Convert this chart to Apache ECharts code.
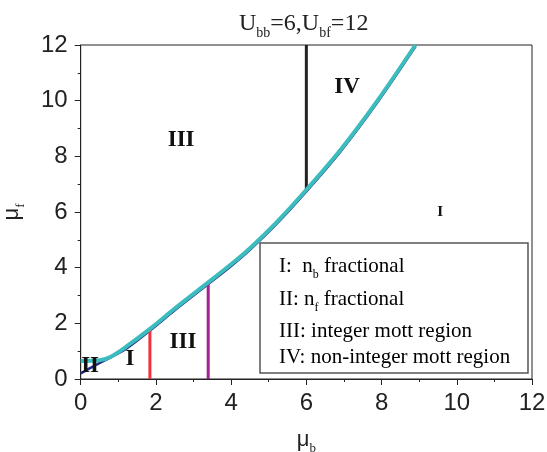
<!DOCTYPE html>
<html><head><meta charset="utf-8">
<script src="https://cdn.jsdelivr.net/npm/echarts@6/dist/echarts.min.js"></script>
<style>html,body{margin:0;padding:0;background:#fff}#c{width:547px;height:452px}</style>
</head><body><div id="c"></div>
<script>
// ---- data ----
var boundaryX = [0, 0.5, 0.8, 1.2, 1.84, 2.5, 3.39, 4.0, 4.5, 5.2, 6.0, 6.9, 7.9, 8.9];
var boundaryY = [0.65, 0.67, 0.8, 1.15, 1.8, 2.53, 3.47, 4.12, 4.7, 5.62, 6.8, 8.22, 10.02, 12.0];
var innerX = [0, 0.3, 0.6, 1.2, 1.84, 2.5, 3.39, 4.0, 4.5, 5.2, 6.0, 6.9, 7.9, 8.9];
var innerY = [0.2, 0.43, 0.64, 1.08, 1.74, 2.47, 3.41, 4.06, 4.64, 5.56, 6.74, 8.16, 9.96, 11.94];
var redX = [1.84, 1.84], redY = [0, 1.8];
var magentaX = [3.39, 3.39], magentaY = [0, 3.47];
var blackX = [6, 6], blackY = [6.8, 12];
var regionX = [0.25, 1.31, 2.72, 2.67, 7.08, 9.56];
var regionY = [0.45, 0.72, 1.33, 8.6, 10.5, 6.0];
var regionText = ['II', 'I', 'III', 'III', 'IV', 'I'];
var xTicks = [0, 2, 4, 6, 8, 10, 12];
var yTicks = [0, 2, 4, 6, 8, 10, 12];

function pts(xs, ys) { return xs.map(function (x, i) { return [x, ys[i]]; }); }

var chart = echarts.init(document.getElementById('c'), null, {renderer: 'canvas'});
var serif = '"Liberation Serif", "DejaVu Serif", serif';
var sans = '"Liberation Sans", Arial, sans-serif';
var sub = {fontFamily: serif, fontSize: 12, fontWeight: 'normal', lineHeight: 30, verticalAlign: 'bottom', color: '#222'};

var legendLines = [
  {y: 266, text: '{a|I:  n}{s|b}{a| fractional}'},
  {y: 299, text: '{a|II: n}{s|f}{a| fractional}'},
  {y: 331, text: '{a|III: integer mott region}'},
  {y: 357, text: '{a|IV: non-integer mott region}'}
];
var graphics = [{
  type: 'rect', shape: {x: 260, y: 243, width: 268, height: 130},
  style: {fill: '#fff', stroke: '#555', lineWidth: 1.5}, z: 10
}];
legendLines.forEach(function (l) {
  graphics.push({
    type: 'text', x: 279, y: l.y, z: 11,
    style: {
      text: l.text, verticalAlign: 'middle', align: 'left',
      rich: {a: {fontFamily: serif, fontSize: 21, lineHeight: 30, verticalAlign: 'middle', color: '#222'}, s: sub}
    }
  });
});

var option = {
  animation: false,
  title: {
    text: '{a|U}{s|bb}{a|=6,U}{s|bf}{a|=12}',
    left: 234, top: 3,
    textStyle: {fontWeight: 'normal', rich: {
      a: {fontFamily: serif, fontSize: 24, fontWeight: 'normal', lineHeight: 32, verticalAlign: 'middle', color: '#222'},
      s: {fontFamily: serif, fontSize: 14, fontWeight: 'normal', lineHeight: 32, verticalAlign: 'bottom', color: '#222'}}}
  },
  grid: {left: 80.7, right: 15, top: 45, bottom: 73, show: true, borderColor: '#222', borderWidth: 1,
    backgroundColor: 'transparent', containLabel: false, outerBoundsMode: 'none'},
  xAxis: {
    type: 'value', min: 0, max: 12, interval: 2,
    name: '{m|μ}{s|b}', nameLocation: 'middle', nameGap: 46,
    nameTextStyle: {rich: {m: {fontFamily: sans, fontSize: 22, lineHeight: 30, verticalAlign: 'middle', color: '#222'}, s: {fontFamily: serif, fontSize: 13, lineHeight: 30, verticalAlign: 'bottom', color: '#222'}}},
    axisLine: {lineStyle: {color: '#222', width: 1}},
    axisTick: {show: true, inside: false, length: 6, lineStyle: {color: '#222'}},
    minorTick: {show: true, splitNumber: 2, length: 3, lineStyle: {color: '#222'}},
    splitLine: {show: false},
    axisLabel: {fontFamily: sans, fontSize: 24, color: '#222', margin: 12, formatter: function (v) { return xTicks.indexOf(v) >= 0 ? String(v) : ''; }}
  },
  yAxis: {
    type: 'value', min: 0, max: 12, interval: 2,
    name: '{m|μ}{s|f}', nameLocation: 'middle', nameGap: 54, nameRotate: 90,
    nameTextStyle: {rich: {m: {fontFamily: sans, fontSize: 22, lineHeight: 30, verticalAlign: 'middle', color: '#222'}, s: {fontFamily: serif, fontSize: 13, lineHeight: 30, verticalAlign: 'bottom', color: '#222'}}},
    axisLine: {show: true, lineStyle: {color: '#222', width: 1}},
    axisTick: {show: true, inside: false, length: 6, lineStyle: {color: '#222'}},
    minorTick: {show: true, splitNumber: 2, length: 3, lineStyle: {color: '#222'}},
    splitLine: {show: false},
    axisLabel: {fontFamily: sans, fontSize: 24, color: '#222', margin: 13, formatter: function (v) { return yTicks.indexOf(v) >= 0 ? String(v) : ''; }}
  },
  graphic: graphics,
  series: [
    {type: 'line', data: pts(innerX, innerY), smooth: 0.3, symbol: 'none', lineStyle: {color: '#1f2a8c', width: 2.5}, z: 2},
    {type: 'line', data: pts(redX, redY), symbol: 'none', lineStyle: {color: '#f0303c', width: 3}, z: 3},
    {type: 'line', data: pts(magentaX, magentaY), symbol: 'none', lineStyle: {color: '#a3208e', width: 3}, z: 3},
    {type: 'line', data: pts(blackX, blackY), symbol: 'none', lineStyle: {color: '#222', width: 3}, z: 3},
    {type: 'line', data: pts(boundaryX, boundaryY), smooth: 0.3, symbol: 'none', lineStyle: {color: '#3cbcbc', width: 4}, z: 4},
    {type: 'scatter', symbolSize: 0, z: 5, itemStyle: {opacity: 1},
      data: regionX.map(function (x, i) { return [x, regionY[i], regionText[i]]; }),
      label: {show: true, position: 'inside', color: '#111', opacity: 1, fontFamily: serif, fontWeight: 'bold',
        textBorderWidth: 0, textBorderColor: 'transparent',
        formatter: function (p) { return p.data[2]; },
        fontSize: 23},
      labelLayout: function (p) { return p.dataIndex === 5 ? {fontSize: 15} : {}; }
    }
  ]
};
chart.setOption(option);
</script></body></html>
